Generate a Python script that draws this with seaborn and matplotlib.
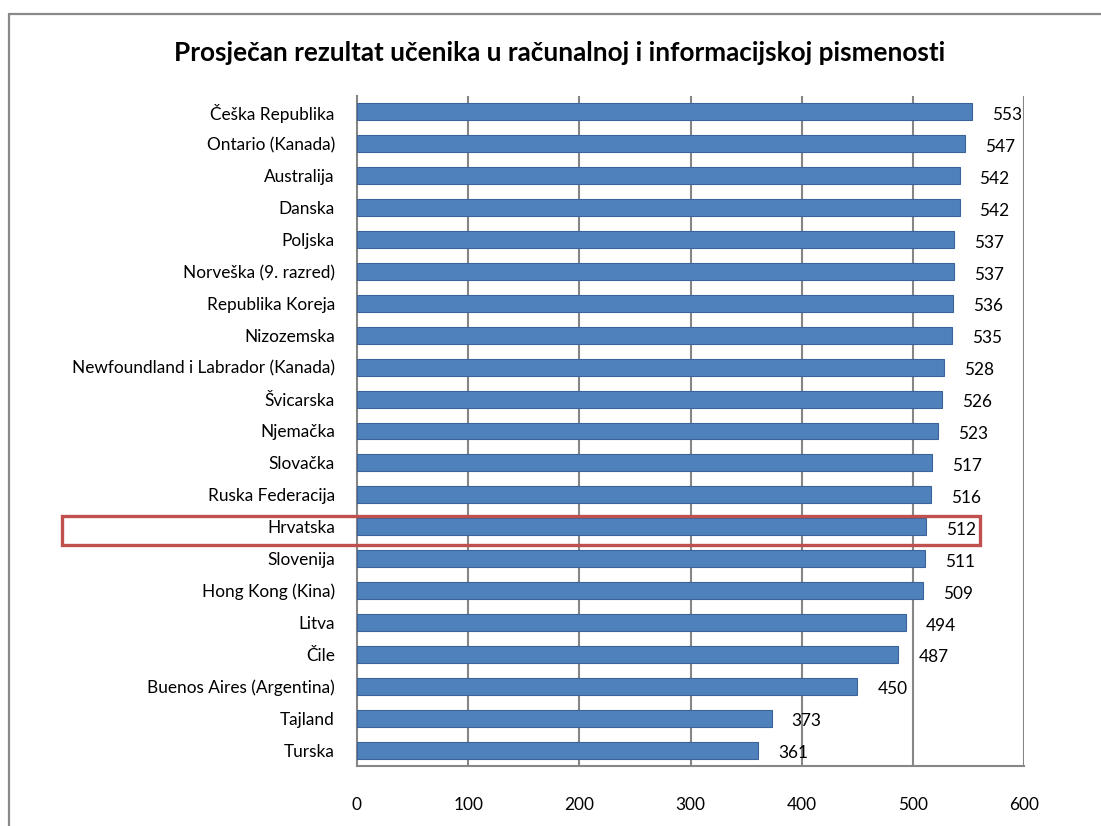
import matplotlib
matplotlib.use("Agg")
import matplotlib.pyplot as plt
import seaborn as sns
import pandas as pd
from matplotlib.patches import Rectangle
from matplotlib.lines import Line2D
from matplotlib.transforms import blended_transform_factory

countries = [
    "Češka Republika", "Ontario (Kanada)", "Australija", "Danska", "Poljska",
    "Norveška (9. razred)", "Republika Koreja", "Nizozemska",
    "Newfoundland i Labrador (Kanada)", "Švicarska", "Njemačka", "Slovačka",
    "Ruska Federacija", "Hrvatska", "Slovenija", "Hong Kong (Kina)", "Litva",
    "Čile", "Buenos Aires (Argentina)", "Tajland", "Turska",
]
scores = [553, 547, 542, 542, 537, 537, 536, 535, 528, 526, 523, 517, 516,
          512, 511, 509, 494, 487, 450, 373, 361]
x_ticks = [0, 100, 200, 300, 400, 500, 600]
title = "Prosječan rezultat učenika u računalnoj i informacijskoj pismenosti"
highlight = "Hrvatska"

df = pd.DataFrame({"country": countries, "score": scores})

sns.set_theme(style="white")
plt.rcParams["font.family"] = ["Lato", "DejaVu Sans"]

W, H = 1101, 826
fig = plt.figure(figsize=(W / 100, H / 100), dpi=100)
ax = fig.add_axes([357 / W, 1 - 766 / H, (1024 - 357) / W, (766 - 96) / H])

grid_c = "#868686"
sns.barplot(data=df, x="score", y="country", orient="h", color="#4F81BD",
            saturation=1, width=0.53, edgecolor="#3A649A", linewidth=0.8,
            ax=ax, zorder=3)

fs = 12.4
ax.set_xlim(0, 600)
ax.set_ylim(len(countries) - 0.5, -0.5)
ax.set_xticks(x_ticks)
ax.set_xticklabels([str(t) for t in x_ticks], fontsize=fs, color="black")
ax.tick_params(axis="x", length=5, width=1.5, color=grid_c, pad=17, direction="out")
ax.tick_params(axis="y", length=0, pad=16, labelsize=fs, labelcolor="black")
ax.set_xlabel("")
ax.set_ylabel("")
ax.set_title("")

for t in x_ticks[1:]:
    ax.axvline(t, color=grid_c, lw=1.5, zorder=1)

for s in ["top", "right"]:
    ax.spines[s].set_visible(False)
for s in ["left", "bottom"]:
    ax.spines[s].set_color(grid_c)
    ax.spines[s].set_linewidth(1.5)

# minor ticks on y at category boundaries
ax.set_yticks([i + 0.5 for i in range(-1, len(countries))], minor=True)
ax.tick_params(axis="y", which="minor", length=5, width=1.5, color=grid_c, direction="out")

for i, v in enumerate(scores):
    ax.text(v + 18, i + 0.05, str(v), va="center_baseline", ha="left", fontsize=fs,
            color="black", zorder=5)

fig.text(0.508, 1 - 53 / H, title, ha="center", va="center",
         fontsize=18.8, fontweight="bold", color="black")

# highlight box
hi = countries.index(highlight)
tr = blended_transform_factory(fig.transFigure, ax.transData)
ax.add_patch(Rectangle((62 / W, hi + 0.12 - 0.46), (980 - 62) / W, 0.92,
                       transform=tr, fill=False, edgecolor="#C0504D",
                       lw=2.4, clip_on=False, zorder=6))

# chart border
fig.add_artist(Line2D([9 / W, 1], [1 - 14 / H, 1 - 14 / H], transform=fig.transFigure,
                      color="#898989", lw=1.6))
fig.add_artist(Line2D([9 / W, 9 / W], [0, 1 - 14 / H], transform=fig.transFigure,
                      color="#898989", lw=1.6))

fig.savefig("out.png", dpi=100)
